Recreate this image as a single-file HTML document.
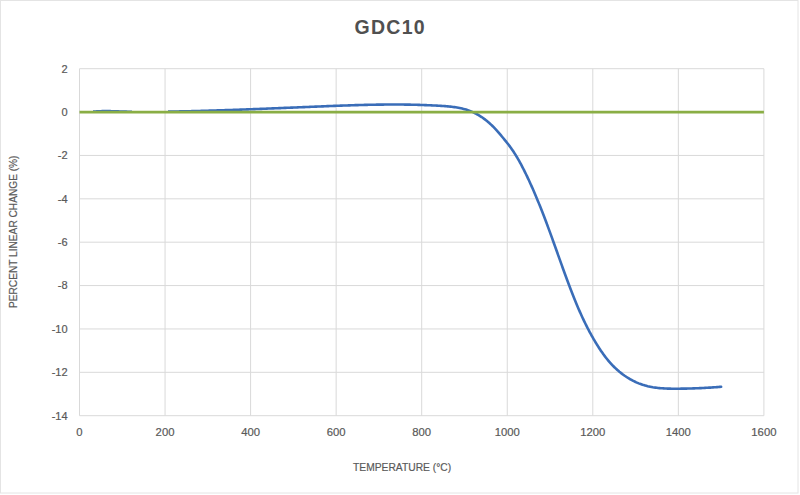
<!DOCTYPE html>
<html><head><meta charset="utf-8"><style>
html,body{margin:0;padding:0;background:#fff;}
body{width:800px;height:495px;overflow:hidden;position:relative;font-family:"Liberation Sans",sans-serif;}
svg{position:absolute;left:0;top:0;}
</style></head><body>
<svg width="800" height="495" viewBox="0 0 800 495">
<rect x="0.5" y="0.5" width="797.5" height="492.5" fill="#fff" stroke="#e4e4e4" stroke-width="1"/>
<g stroke="#d9d9d9" stroke-width="1" fill="none">
<line x1="79.50" y1="68.70" x2="79.50" y2="415.70"/>
<line x1="165.05" y1="68.70" x2="165.05" y2="415.70"/>
<line x1="250.60" y1="68.70" x2="250.60" y2="415.70"/>
<line x1="336.15" y1="68.70" x2="336.15" y2="415.70"/>
<line x1="421.70" y1="68.70" x2="421.70" y2="415.70"/>
<line x1="507.25" y1="68.70" x2="507.25" y2="415.70"/>
<line x1="592.80" y1="68.70" x2="592.80" y2="415.70"/>
<line x1="678.35" y1="68.70" x2="678.35" y2="415.70"/>
<line x1="763.90" y1="68.70" x2="763.90" y2="415.70"/>
<line x1="79.50" y1="68.70" x2="763.90" y2="68.70"/>
<line x1="79.50" y1="112.08" x2="763.90" y2="112.08"/>
<line x1="79.50" y1="155.45" x2="763.90" y2="155.45"/>
<line x1="79.50" y1="198.82" x2="763.90" y2="198.82"/>
<line x1="79.50" y1="242.20" x2="763.90" y2="242.20"/>
<line x1="79.50" y1="285.57" x2="763.90" y2="285.57"/>
<line x1="79.50" y1="328.95" x2="763.90" y2="328.95"/>
<line x1="79.50" y1="372.32" x2="763.90" y2="372.32"/>
<line x1="79.50" y1="415.70" x2="763.90" y2="415.70"/>
</g>
<defs><mask id="m" maskUnits="userSpaceOnUse" x="0" y="0" width="800" height="495"><rect x="0" y="0" width="800" height="495" fill="#fff"/><rect x="70" y="110" width="23" height="4" fill="#000"/><rect x="132" y="110" width="36" height="4" fill="#000"/></mask></defs>
<path mask="url(#m)" d="M80.80,112.22 L82.14,112.19 L83.48,112.15 L84.82,112.09 L86.16,112.03 L87.49,111.96 L88.83,111.88 L90.17,111.80 L91.51,111.72 L92.84,111.64 L94.18,111.55 L95.52,111.47 L96.86,111.40 L98.19,111.33 L99.53,111.26 L100.87,111.21 L102.21,111.16 L103.55,111.13 L104.89,111.11 L106.22,111.10 L107.56,111.11 L108.90,111.13 L110.24,111.15 L111.58,111.19 L112.92,111.23 L114.26,111.27 L115.60,111.32 L116.94,111.36 L118.28,111.41 L119.62,111.46 L120.96,111.51 L122.30,111.55 L123.64,111.59 L124.98,111.62 L126.32,111.66 L127.65,111.69 L128.99,111.71 L130.33,111.74 L131.67,111.76 L133.01,111.78 L134.35,111.80 L135.69,111.82 L137.02,111.83 L138.36,111.84 L139.70,111.85 L141.04,111.85 L142.38,111.86 L143.72,111.86 L145.05,111.86 L146.39,111.86 L147.73,111.86 L149.07,111.85 L150.41,111.85 L151.74,111.84 L153.08,111.83 L154.42,111.82 L155.76,111.80 L157.10,111.79 L158.43,111.78 L159.77,111.76 L161.11,111.74 L162.45,111.73 L163.79,111.71 L165.12,111.69 L166.46,111.67 L167.80,111.64 L169.14,111.62 L170.48,111.60 L171.82,111.58 L173.16,111.55 L174.49,111.53 L175.83,111.50 L177.17,111.47 L178.51,111.45 L179.85,111.42 L181.19,111.39 L182.53,111.36 L183.87,111.33 L185.20,111.30 L186.54,111.27 L187.88,111.24 L189.22,111.21 L190.56,111.18 L191.90,111.15 L193.24,111.11 L194.58,111.08 L195.92,111.04 L197.26,111.01 L198.60,110.97 L199.94,110.94 L201.28,110.90 L202.61,110.86 L203.95,110.83 L205.29,110.79 L206.63,110.75 L207.97,110.71 L209.31,110.67 L210.65,110.63 L211.99,110.59 L213.33,110.55 L214.67,110.51 L216.01,110.47 L217.35,110.42 L218.69,110.38 L220.03,110.34 L221.37,110.30 L222.71,110.25 L224.05,110.21 L225.39,110.16 L226.73,110.12 L228.07,110.07 L229.41,110.03 L230.75,109.98 L232.09,109.93 L233.43,109.89 L234.77,109.84 L236.11,109.79 L237.45,109.74 L238.79,109.70 L240.13,109.65 L241.47,109.60 L242.81,109.55 L244.15,109.50 L245.48,109.45 L246.82,109.40 L248.16,109.35 L249.50,109.30 L250.84,109.25 L252.18,109.20 L253.52,109.15 L254.86,109.10 L256.20,109.05 L257.54,108.99 L258.88,108.94 L260.22,108.89 L261.56,108.84 L262.90,108.78 L264.24,108.73 L265.58,108.68 L266.92,108.63 L268.26,108.57 L269.60,108.52 L270.94,108.46 L272.28,108.41 L273.61,108.36 L274.95,108.30 L276.29,108.25 L277.63,108.19 L278.97,108.14 L280.31,108.09 L281.65,108.03 L282.99,107.98 L284.33,107.92 L285.67,107.87 L287.01,107.81 L288.34,107.76 L289.68,107.70 L291.02,107.65 L292.36,107.59 L293.70,107.54 L295.04,107.48 L296.38,107.43 L297.71,107.37 L299.05,107.32 L300.39,107.26 L301.73,107.21 L303.07,107.15 L304.41,107.10 L305.74,107.04 L307.08,106.99 L308.42,106.93 L309.76,106.88 L311.10,106.82 L312.43,106.77 L313.77,106.71 L315.11,106.66 L316.45,106.60 L317.78,106.55 L319.12,106.50 L320.46,106.44 L321.80,106.39 L323.13,106.33 L324.47,106.28 L325.81,106.23 L327.14,106.17 L328.48,106.12 L329.82,106.07 L331.15,106.02 L332.49,105.96 L333.83,105.91 L335.16,105.86 L336.50,105.81 L337.84,105.76 L339.17,105.71 L340.51,105.66 L341.85,105.61 L343.18,105.57 L344.52,105.52 L345.86,105.47 L347.19,105.43 L348.53,105.38 L349.87,105.34 L351.20,105.30 L352.54,105.25 L353.88,105.21 L355.21,105.17 L356.55,105.13 L357.89,105.09 L359.22,105.05 L360.56,105.02 L361.90,104.98 L363.23,104.95 L364.57,104.91 L365.91,104.88 L367.24,104.85 L368.58,104.82 L369.92,104.79 L371.26,104.77 L372.59,104.74 L373.93,104.71 L375.27,104.69 L376.61,104.67 L377.94,104.65 L379.28,104.63 L380.62,104.61 L381.96,104.60 L383.29,104.58 L384.63,104.57 L385.97,104.56 L387.31,104.55 L388.65,104.54 L389.99,104.53 L391.32,104.53 L392.66,104.53 L394.00,104.53 L395.34,104.53 L396.68,104.53 L398.02,104.54 L399.36,104.54 L400.70,104.55 L402.04,104.56 L403.38,104.57 L404.72,104.59 L406.06,104.61 L407.40,104.62 L408.74,104.65 L410.08,104.67 L411.42,104.69 L412.77,104.72 L414.11,104.75 L415.45,104.79 L416.79,104.82 L418.13,104.86 L419.47,104.90 L420.82,104.94 L422.16,104.98 L423.50,105.03 L424.85,105.08 L426.19,105.13 L427.53,105.19 L428.88,105.24 L430.22,105.30 L431.57,105.37 L432.91,105.43 L434.26,105.50 L435.60,105.57 L436.95,105.64 L438.29,105.72 L439.64,105.80 L440.98,105.88 L442.33,105.97 L443.68,106.06 L445.02,106.15 L446.36,106.26 L447.71,106.37 L449.04,106.50 L450.38,106.63 L451.71,106.78 L453.04,106.94 L454.37,107.12 L455.69,107.31 L457.01,107.52 L458.32,107.75 L459.62,108.00 L460.92,108.27 L462.21,108.57 L463.50,108.89 L464.78,109.23 L466.05,109.60 L467.31,110.00 L468.56,110.42 L469.80,110.88 L471.03,111.37 L472.26,111.88 L473.47,112.43 L474.67,113.01 L475.86,113.62 L477.03,114.25 L478.20,114.91 L479.35,115.60 L480.49,116.31 L481.61,117.04 L482.72,117.80 L483.82,118.58 L484.90,119.38 L485.97,120.20 L487.02,121.05 L488.05,121.91 L489.07,122.79 L490.06,123.68 L491.05,124.60 L492.01,125.53 L492.97,126.47 L493.90,127.43 L494.83,128.39 L495.74,129.37 L496.65,130.36 L497.54,131.36 L498.42,132.37 L499.30,133.39 L500.17,134.41 L501.03,135.43 L501.89,136.47 L502.75,137.50 L503.60,138.54 L504.45,139.57 L505.30,140.61 L506.14,141.66 L506.98,142.70 L507.81,143.76 L508.63,144.81 L509.44,145.88 L510.24,146.95 L511.02,148.04 L511.79,149.13 L512.55,150.23 L513.29,151.34 L514.03,152.45 L514.75,153.58 L515.46,154.71 L516.16,155.85 L516.86,156.99 L517.54,158.14 L518.21,159.30 L518.87,160.46 L519.53,161.62 L520.17,162.80 L520.81,163.97 L521.44,165.15 L522.06,166.34 L522.68,167.53 L523.29,168.72 L523.89,169.92 L524.49,171.12 L525.09,172.32 L525.67,173.52 L526.26,174.73 L526.84,175.93 L527.41,177.14 L527.98,178.35 L528.55,179.57 L529.12,180.78 L529.68,182.00 L530.23,183.21 L530.79,184.43 L531.33,185.65 L531.88,186.87 L532.42,188.10 L532.96,189.32 L533.50,190.55 L534.03,191.77 L534.56,193.00 L535.08,194.23 L535.61,195.46 L536.13,196.70 L536.64,197.93 L537.16,199.16 L537.67,200.40 L538.18,201.64 L538.68,202.88 L539.19,204.12 L539.69,205.36 L540.18,206.60 L540.68,207.84 L541.17,209.08 L541.66,210.33 L542.15,211.57 L542.64,212.82 L543.12,214.07 L543.61,215.32 L544.09,216.57 L544.56,217.82 L545.04,219.07 L545.52,220.32 L545.99,221.57 L546.46,222.82 L546.93,224.08 L547.40,225.33 L547.86,226.59 L548.33,227.84 L548.79,229.10 L549.26,230.35 L549.72,231.61 L550.18,232.87 L550.64,234.13 L551.09,235.39 L551.55,236.65 L552.01,237.91 L552.46,239.17 L552.92,240.43 L553.37,241.69 L553.82,242.95 L554.28,244.21 L554.73,245.47 L555.18,246.73 L555.63,247.99 L556.08,249.26 L556.53,250.52 L556.98,251.78 L557.43,253.04 L557.88,254.31 L558.33,255.57 L558.79,256.83 L559.24,258.10 L559.69,259.36 L560.14,260.62 L560.59,261.88 L561.04,263.15 L561.49,264.41 L561.94,265.67 L562.40,266.93 L562.85,268.20 L563.30,269.46 L563.76,270.72 L564.22,271.98 L564.67,273.24 L565.13,274.50 L565.59,275.76 L566.05,277.02 L566.51,278.28 L566.97,279.54 L567.44,280.80 L567.91,282.05 L568.37,283.31 L568.84,284.57 L569.32,285.82 L569.79,287.07 L570.27,288.33 L570.74,289.58 L571.23,290.83 L571.71,292.08 L572.20,293.33 L572.69,294.57 L573.18,295.82 L573.67,297.06 L574.17,298.30 L574.67,299.55 L575.18,300.79 L575.69,302.02 L576.20,303.26 L576.71,304.49 L577.23,305.73 L577.76,306.96 L578.28,308.19 L578.81,309.41 L579.35,310.64 L579.89,311.86 L580.43,313.08 L580.98,314.30 L581.54,315.52 L582.09,316.73 L582.66,317.94 L583.23,319.15 L583.80,320.36 L584.38,321.56 L584.96,322.76 L585.55,323.96 L586.14,325.16 L586.75,326.35 L587.35,327.54 L587.96,328.73 L588.58,329.92 L589.20,331.10 L589.83,332.28 L590.47,333.45 L591.11,334.62 L591.76,335.79 L592.42,336.96 L593.08,338.12 L593.75,339.28 L594.43,340.44 L595.11,341.59 L595.80,342.74 L596.50,343.88 L597.21,345.03 L597.92,346.16 L598.64,347.30 L599.37,348.42 L600.11,349.54 L600.86,350.66 L601.62,351.77 L602.39,352.87 L603.16,353.96 L603.95,355.04 L604.76,356.12 L605.57,357.18 L606.39,358.24 L607.23,359.28 L608.08,360.32 L608.94,361.34 L609.82,362.35 L610.71,363.35 L611.61,364.34 L612.53,365.31 L613.46,366.27 L614.41,367.21 L615.38,368.14 L616.36,369.05 L617.35,369.95 L618.36,370.83 L619.38,371.70 L620.42,372.54 L621.48,373.37 L622.54,374.18 L623.62,374.97 L624.71,375.75 L625.82,376.50 L626.94,377.23 L628.07,377.95 L629.21,378.64 L630.36,379.31 L631.53,379.96 L632.70,380.58 L633.89,381.18 L635.09,381.76 L636.30,382.32 L637.52,382.85 L638.74,383.36 L639.98,383.84 L641.23,384.29 L642.49,384.72 L643.75,385.12 L645.02,385.49 L646.31,385.84 L647.59,386.17 L648.89,386.47 L650.19,386.74 L651.50,386.99 L652.82,387.23 L654.14,387.44 L655.47,387.63 L656.80,387.80 L658.13,387.95 L659.47,388.09 L660.81,388.21 L662.16,388.32 L663.50,388.41 L664.85,388.48 L666.21,388.55 L667.56,388.60 L668.91,388.64 L670.27,388.67 L671.62,388.70 L672.98,388.71 L674.33,388.72 L675.68,388.72 L677.03,388.71 L678.38,388.70 L679.73,388.69 L681.07,388.67 L682.41,388.65 L683.75,388.63 L685.09,388.61 L686.42,388.58 L687.75,388.55 L689.08,388.52 L690.41,388.48 L691.74,388.44 L693.07,388.40 L694.39,388.36 L695.72,388.31 L697.04,388.26 L698.37,388.20 L699.69,388.15 L701.02,388.09 L702.35,388.03 L703.68,387.96 L705.00,387.89 L706.33,387.82 L707.67,387.74 L709.00,387.66 L710.34,387.58 L711.68,387.49 L713.02,387.41 L714.36,387.31 L715.71,387.22 L717.06,387.12 L718.41,387.01 L719.77,386.91 L721.13,386.80" fill="none" stroke="#3a6db8" stroke-width="2.6" stroke-linecap="round" stroke-linejoin="round"/>
<line x1="79.50" y1="112.1" x2="763.90" y2="112.1" stroke="#8aae45" stroke-width="2.9"/>
<g font-family="Liberation Sans, sans-serif" font-size="11" fill="#595959" stroke="#595959" stroke-width="0.2" text-anchor="end">
<text x="67.6" y="72.60">2</text>
<text x="67.6" y="115.98">0</text>
<text x="67.6" y="159.35">-2</text>
<text x="67.6" y="202.72">-4</text>
<text x="67.6" y="246.10">-6</text>
<text x="67.6" y="289.47">-8</text>
<text x="67.6" y="332.85">-10</text>
<text x="67.6" y="376.22">-12</text>
<text x="67.6" y="419.60">-14</text>
</g>
<g font-family="Liberation Sans, sans-serif" font-size="11.3" fill="#595959" stroke="#595959" stroke-width="0.2" text-anchor="middle">
<text x="79.50" y="436">0</text>
<text x="165.05" y="436">200</text>
<text x="250.60" y="436">400</text>
<text x="336.15" y="436">600</text>
<text x="421.70" y="436">800</text>
<text x="507.25" y="436">1000</text>
<text x="592.80" y="436">1200</text>
<text x="678.35" y="436">1400</text>
<text x="763.90" y="436">1600</text>
</g>
<text x="390.2" y="34.2" font-family="Liberation Sans, sans-serif" font-size="19.5" font-weight="bold" fill="#505050" text-anchor="middle" letter-spacing="1.3">GDC10</text>
<text x="402.1" y="470.5" font-family="Liberation Sans, sans-serif" font-size="11" fill="#595959" stroke="#595959" stroke-width="0.2" text-anchor="middle" textLength="98" lengthAdjust="spacingAndGlyphs">TEMPERATURE (°C)</text>
<text transform="translate(17,231.75) rotate(-90)" font-family="Liberation Sans, sans-serif" font-size="11.2" fill="#595959" stroke="#595959" stroke-width="0.2" text-anchor="middle" textLength="152.5" lengthAdjust="spacingAndGlyphs">PERCENT LINEAR CHANGE (%)</text>
</svg>
</body></html>
